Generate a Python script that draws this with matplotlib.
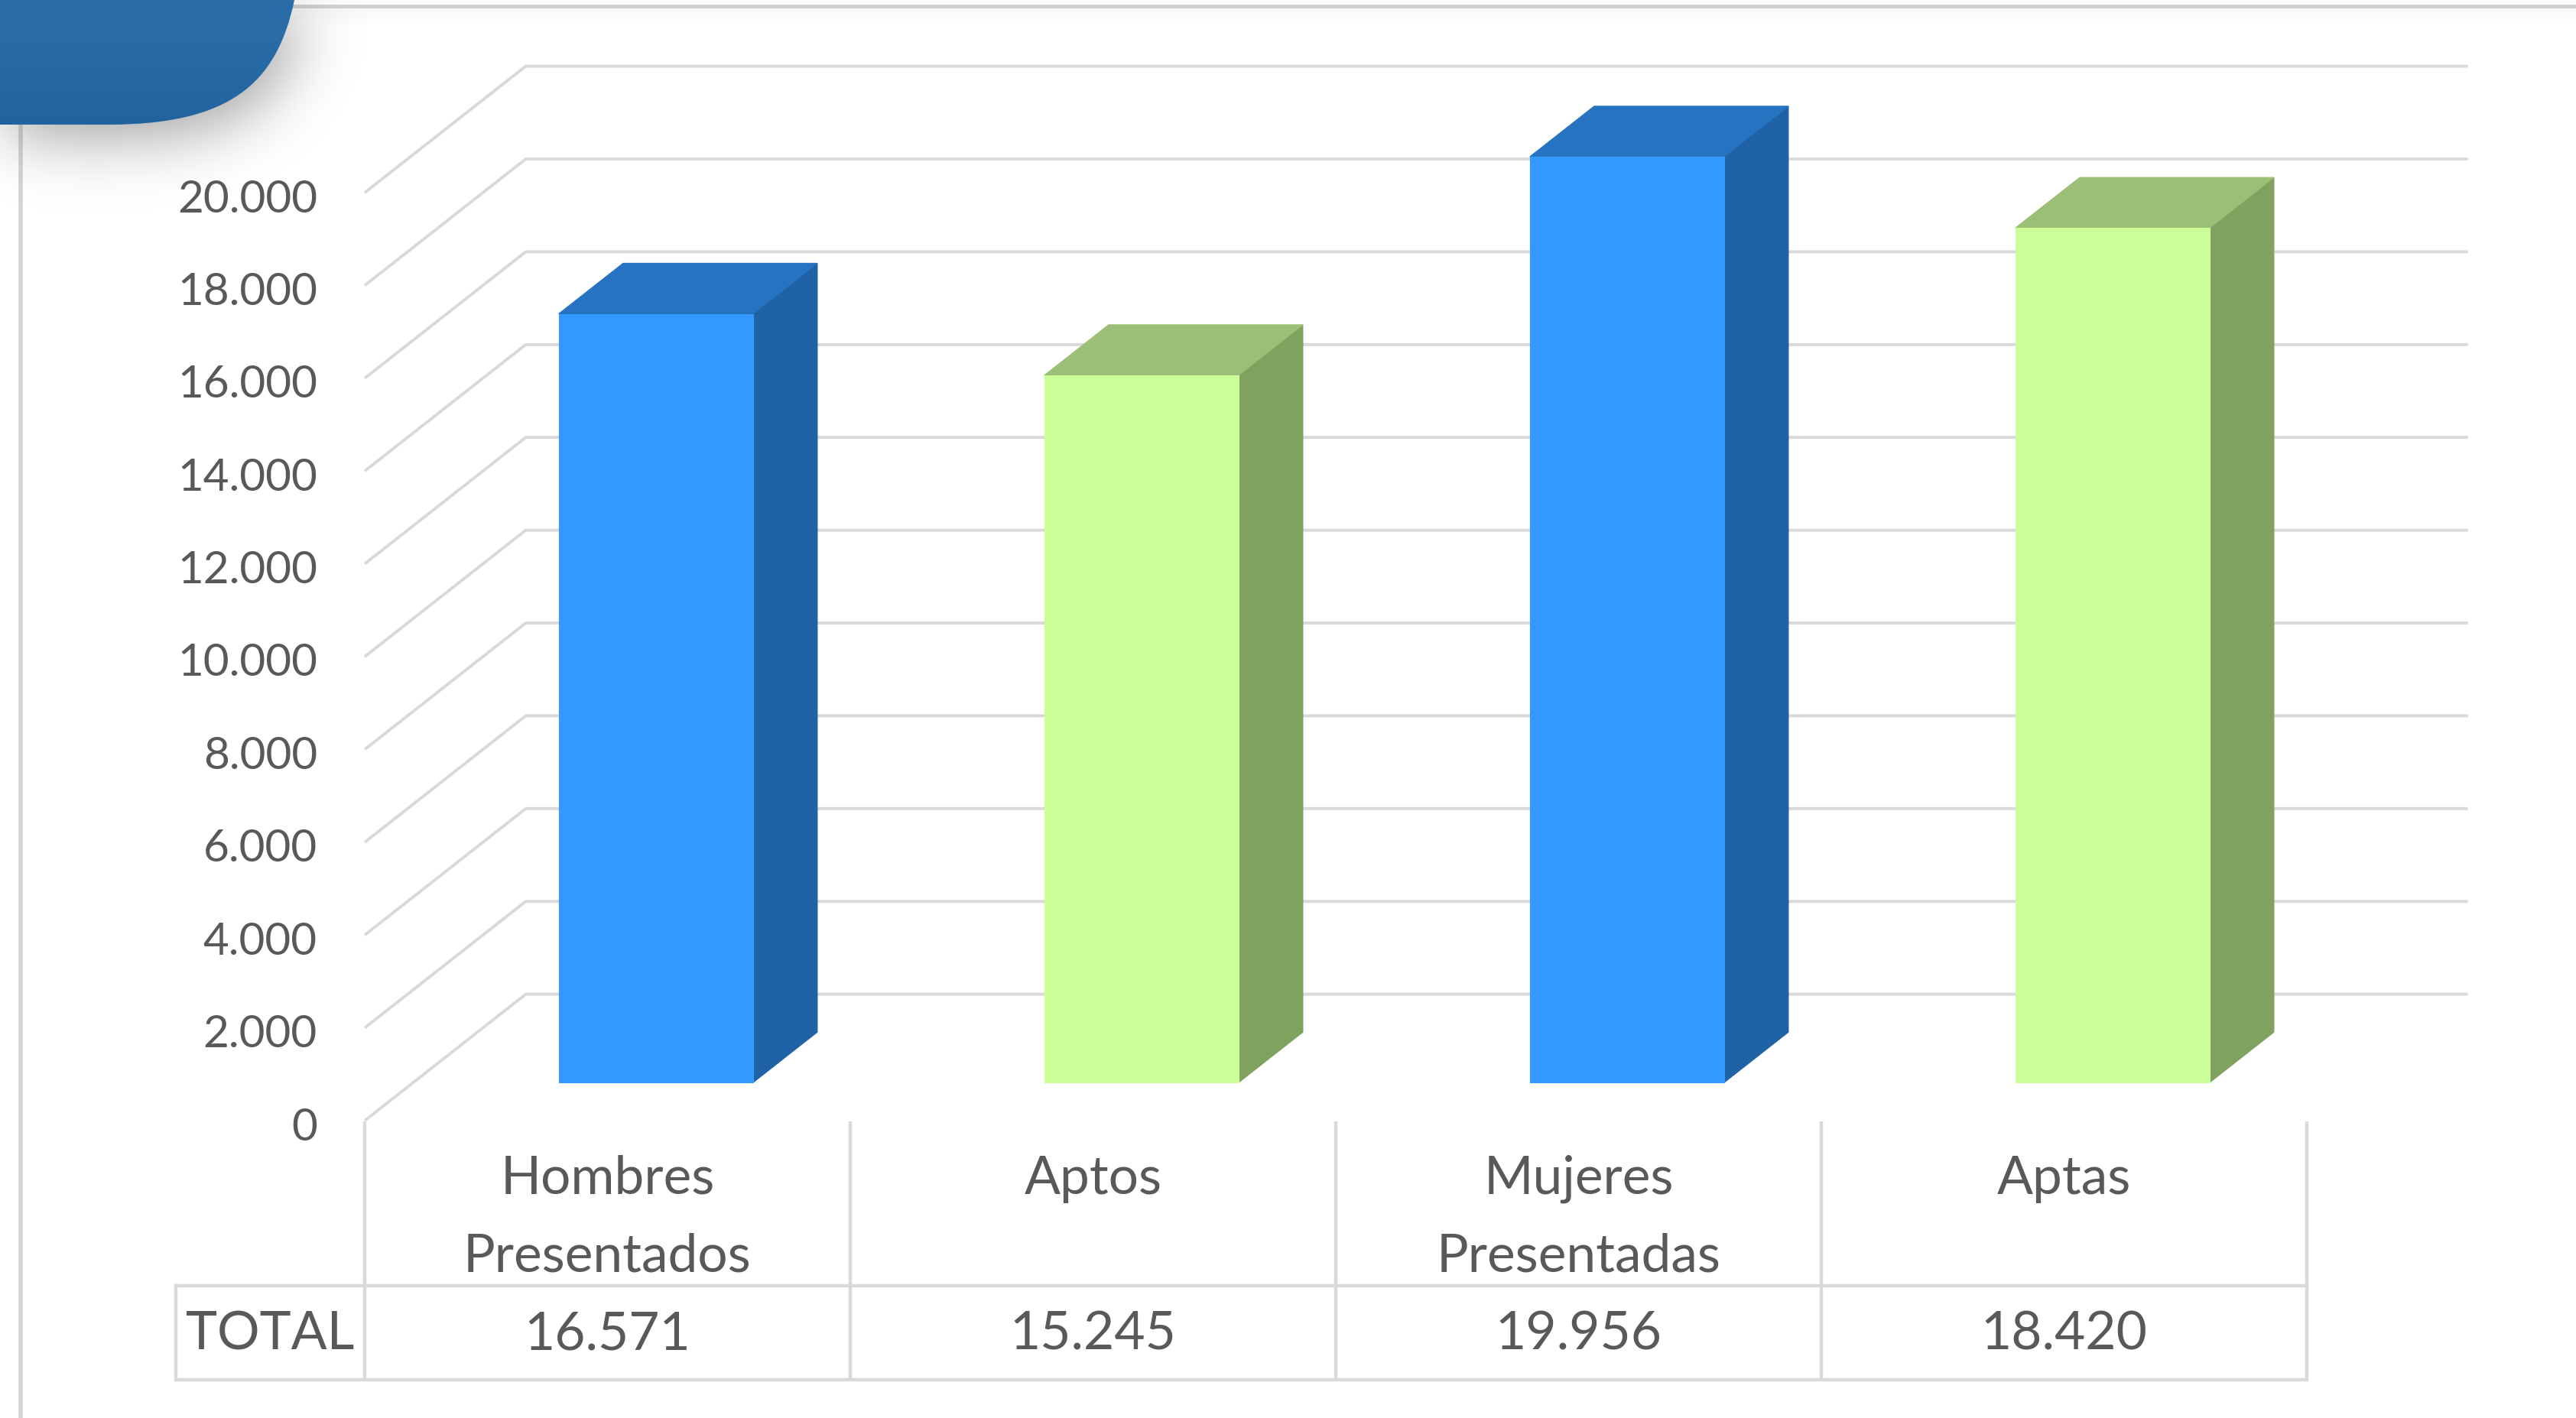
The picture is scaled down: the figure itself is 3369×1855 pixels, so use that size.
import matplotlib
matplotlib.use("Agg")
import numpy as np
import matplotlib.pyplot as plt
from matplotlib.patches import Polygon, PathPatch
from matplotlib.path import Path
import matplotlib.transforms as mtransforms

# ---------------- data ----------------
categories = ["Hombres\nPresentados", "Aptos", "Mujeres\nPresentadas", "Aptas"]
values = [16571, 15245, 19956, 18420]
value_labels = ["16.571", "15.245", "19.956", "18.420"]
row_label = "TOTAL"
yticks = [0, 2000, 4000, 6000, 8000, 10000, 12000, 14000, 16000, 18000, 20000]
ytick_labels = ["0", "2.000", "4.000", "6.000", "8.000", "10.000",
                "12.000", "14.000", "16.000", "18.000", "20.000"]
front_colors = ["#3399FF", "#CCFF99", "#3399FF", "#CCFF99"]
side_colors = ["#2062A6", "#7FA35F", "#2062A6", "#7FA35F"]
top_colors = ["#2673C2", "#9BBF76", "#2673C2", "#9BBF76"]

# ---------------- layout ----------------
W, H = 3369, 1855
DPI = 100
FONT = ["Lato", "DejaVu Sans"]
TXT = "#595959"
GRID = "#D9D9D9"

fig = plt.figure(figsize=(W / DPI, H / DPI), dpi=DPI)
fig.patch.set_facecolor("white")

# pixel overlay axes for decorations
pax = fig.add_axes([0, 0, 1, 1], zorder=0)
pax.set_xlim(0, W)
pax.set_ylim(H, 0)
pax.axis("off")

def fx(px):
    return px / W

def fy(py):
    return 1 - py / H

# front plane of the chart
X0, X1 = 477, 3017
Y0, Y1 = 1466, 252
VMAX = 20000
ax = fig.add_axes([fx(X0), fy(Y0), fx(X1) - fx(X0), fy(Y1) - fy(Y0)], zorder=2)
ax.set_xlim(-0.5, 3.5)
ax.set_ylim(0, VMAX)
ax.axis("off")
ax.patch.set_alpha(0)

ncat = len(categories)
cat_px = (X1 - X0) / ncat
DEPTH_PX = (210.6, 165.4)
ddx = DEPTH_PX[0] / cat_px
ddv = DEPTH_PX[1] / ((Y0 - Y1) / VMAX)

# gridlines: left wall diagonals + back wall horizontals
for t in yticks:
    ax.plot([-0.5, -0.5 + ddx, 3.5 + ddx], [t, t + ddv, t + ddv],
            color=GRID, lw=2.8, clip_on=False, zorder=1, solid_capstyle="butt")

# tick labels
lab_tr = ax.transData + mtransforms.ScaledTranslation(-62 / DPI, -9 / DPI, fig.dpi_scale_trans)
for t, lab in zip(yticks, ytick_labels):
    ax.text(-0.5, t, lab, transform=lab_tr, ha="right", va="center",
            fontsize=42, color=TXT, family=FONT)

# 3D bars
BW = 0.2
DF, DB = 0.3, 0.7
for i, v in enumerate(values):
    xl = i - BW
    xr = i + BW
    front = [(xl + DF * ddx, DF * ddv), (xr + DF * ddx, DF * ddv),
             (xr + DF * ddx, v + DF * ddv), (xl + DF * ddx, v + DF * ddv)]
    side = [(xr + DF * ddx, DF * ddv), (xr + DB * ddx, DB * ddv),
            (xr + DB * ddx, v + DB * ddv), (xr + DF * ddx, v + DF * ddv)]
    top = [(xl + DF * ddx, v + DF * ddv), (xr + DF * ddx, v + DF * ddv),
           (xr + DB * ddx, v + DB * ddv), (xl + DB * ddx, v + DB * ddv)]
    for pts, col in ((side, side_colors[i]), (top, top_colors[i]), (front, front_colors[i])):
        ax.add_patch(Polygon(pts, closed=True, facecolor=col, edgecolor=col,
                             lw=0.8, clip_on=False, zorder=3))

# ---------------- data table ----------------
def cpx(x):
    return X0 + (x + 0.5) * cat_px

T_TOP, T_MID, T_BOT = 1467, 1682, 1805
T_LEFT = 230
TLW = 3.2
for k in range(ncat + 1):
    xb = cpx(k - 0.5)
    pax.plot([xb, xb], [T_TOP, T_BOT], color=GRID, lw=TLW, solid_capstyle="butt")
pax.plot([T_LEFT, cpx(ncat - 0.5)], [T_MID, T_MID], color=GRID, lw=TLW)
pax.plot([T_LEFT, cpx(ncat - 0.5)], [T_BOT, T_BOT], color=GRID, lw=TLW)
pax.plot([T_LEFT, T_LEFT], [T_MID, T_BOT], color=GRID, lw=TLW)

LINE1_BASE = 1562
LINE_STEP = 101
for i, cat in enumerate(categories):
    for j, line in enumerate(cat.split("\n")):
        pax.text(cpx(i), LINE1_BASE + j * LINE_STEP, line, ha="center",
                 va="baseline", fontsize=50, color=TXT, family=FONT)
ROW_BASE = 1766
for i, lab in enumerate(value_labels):
    pax.text(cpx(i), ROW_BASE, lab, ha="center", va="baseline",
             fontsize=50, color=TXT, family=FONT)
pax.text((T_LEFT + X0) / 2, ROW_BASE, row_label, ha="center", va="baseline",
         fontsize=50, color=TXT, family=FONT)

# ---------------- slide frame decorations ----------------
# top frame line with soft shadow
for k in range(10):
    pax.plot([330, W], [11 + k * 2.2, 11 + k * 2.2], color="#9A9A9A",
             lw=2.2, alpha=0.05 * (1 - k / 10), solid_capstyle="butt", zorder=1)
pax.plot([330, W], [8, 8], color="#D0D0D0", lw=3.5, zorder=1)
# left frame line
pax.plot([27, 27], [160, H], color="#D4D4D4", lw=4, zorder=1)

# blue tab shape
verts = [(0, 0), (385, 0), (362, 110), (300, 163), (140, 163), (0, 163), (0, 0)]
codes = [Path.MOVETO, Path.LINETO, Path.CURVE4, Path.CURVE4, Path.CURVE4,
         Path.LINETO, Path.CLOSEPOLY]
tab = Path(verts, codes)

# soft blurred shadow below/right of the tab
step = 3
gx = np.arange(0, 720, step)
gy = np.arange(0, 420, step)
GX, GY = np.meshgrid(gx, gy)
shifted = tab.transformed(mtransforms.Affine2D().translate(10, 16))
mask = shifted.contains_points(np.c_[GX.ravel(), GY.ravel()]).reshape(GX.shape).astype(float)
# shadow also extends above the image top (tab is cut by the slide edge)
sig = 40 / step
kr = np.arange(-int(3 * sig), int(3 * sig) + 1)
kern = np.exp(-0.5 * (kr / sig) ** 2)
kern /= kern.sum()
pad = len(kr)
mpad = np.pad(mask, ((pad, pad), (pad, pad)), mode="edge")
blur = np.apply_along_axis(lambda r: np.convolve(r, kern, mode="same"), 1, mpad)
blur = np.apply_along_axis(lambda c: np.convolve(c, kern, mode="same"), 0, blur)
blur = blur[pad:-pad, pad:-pad]
rgba = np.zeros(blur.shape + (4,))
rgba[..., :3] = 0.35
rgba[..., 3] = np.clip(blur * 0.55, 0, 1)
pax.imshow(rgba, extent=(0, gx[-1] + step, gy[-1] + step, 0), origin="upper",
           interpolation="bilinear", zorder=1.5, aspect="auto")

pax.add_patch(PathPatch(tab, facecolor="#286BA7", edgecolor="none", zorder=3))
# slight vertical gradient inside the tab
clip = PathPatch(tab, transform=pax.transData, facecolor="none", edgecolor="none", zorder=3)
pax.add_patch(clip)
for k in range(8):
    r = pax.add_patch(plt.Rectangle((0, 60 + k * 13), 400, 13 + 100, facecolor="#1F5C96",
                                    edgecolor="none", alpha=0.05, zorder=3.1))
    r.set_clip_path(clip)

pax.set_xlim(0, W)
pax.set_ylim(H, 0)
fig.savefig("out.png", dpi=DPI, facecolor="white")
